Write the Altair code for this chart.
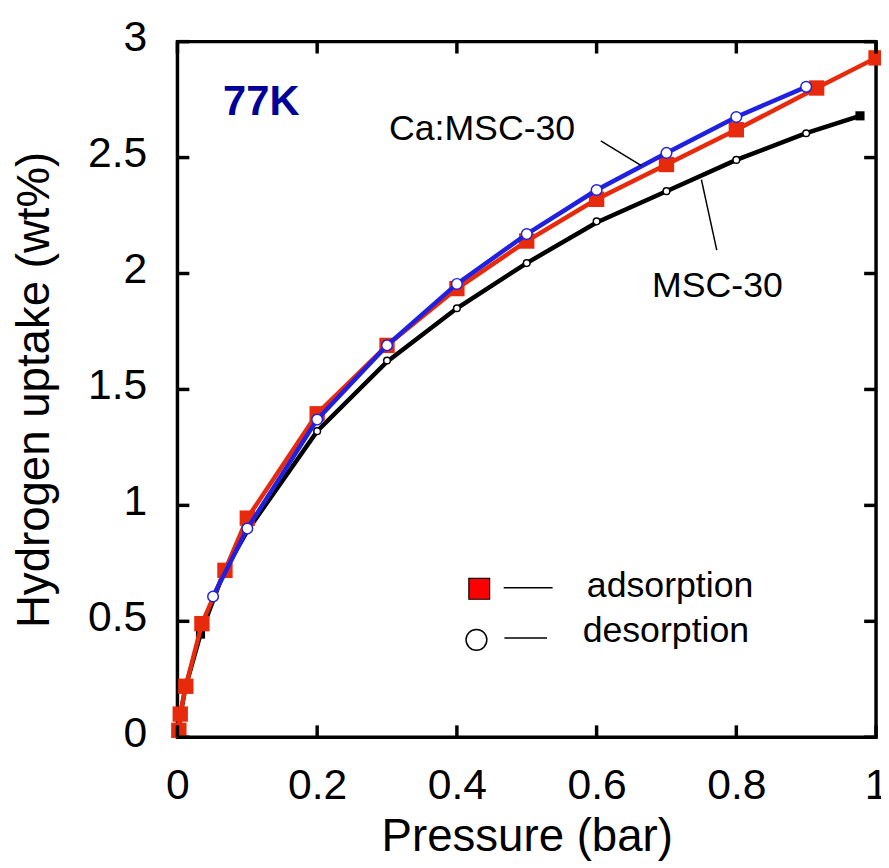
import altair as alt
import pandas as pd

# MSC-30 (black)
msc_ads_p = [0.002, 0.004, 0.011, 0.033, 0.066, 0.1, 0.2, 0.3, 0.4, 0.5, 0.6, 0.7, 0.8, 0.9, 0.977]
msc_ads_u = [0.03, 0.09, 0.21, 0.445, 0.71, 0.89, 1.32, 1.62, 1.85, 2.045, 2.22, 2.355, 2.49, 2.605, 2.68]
msc_sq_p = [0.002, 0.004, 0.011, 0.033, 0.066, 0.977]
msc_sq_u = [0.03, 0.09, 0.21, 0.445, 0.71, 2.68]
msc_des_p = [0.1, 0.2, 0.3, 0.4, 0.5, 0.6, 0.7, 0.8, 0.9]
msc_des_u = [0.895, 1.32, 1.625, 1.85, 2.045, 2.225, 2.355, 2.49, 2.605]

# Ca:MSC-30 adsorption (red)
ca_ads_p = [0.002, 0.004, 0.012, 0.035, 0.068, 0.1, 0.2, 0.3, 0.4, 0.5, 0.6, 0.7, 0.8, 0.915, 1.0]
ca_ads_u = [0.03, 0.1, 0.22, 0.49, 0.72, 0.945, 1.395, 1.69, 1.935, 2.14, 2.32, 2.47, 2.62, 2.80, 2.93]

# Ca:MSC-30 desorption (blue)
ca_des_p = [0.051, 0.1, 0.2, 0.3, 0.4, 0.5, 0.6, 0.7, 0.8, 0.9]
ca_des_u = [0.607, 0.90, 1.37, 1.69, 1.955, 2.17, 2.36, 2.52, 2.675, 2.805]

x_ticks = [0, 0.2, 0.4, 0.6, 0.8, 1.0]
y_ticks = [0, 0.5, 1.0, 1.5, 2.0, 2.5, 3.0]

FONT = "Liberation Sans"
W, H = 705, 702

xs = alt.Scale(domain=[0, 1], nice=False, zero=False)
ys = alt.Scale(domain=[0, 3], nice=False, zero=False)

X = alt.X("p:Q", scale=xs, axis=alt.Axis(
    title="Pressure (bar)", values=x_ticks,
    labelExpr="datum.value == 0 ? '0' : datum.value == 1 ? '1' : format(datum.value, '.1f')",
    tickSize=0, labelFontSize=43, labelFont=FONT, labelColor="black", labelPadding=28,
    titleFontSize=46, titleFont=FONT, titleFontWeight="normal", titleColor="black", titlePadding=7,
    grid=False, domain=False, labelFlush=False))
Y = alt.Y("u:Q", scale=ys, axis=alt.Axis(
    title="Hydrogen uptake (wt%)", values=y_ticks,
    labelExpr="datum.value == 0 ? '0' : format(datum.value, '~g')",
    tickSize=0, labelFontSize=43, labelFont=FONT, labelColor="black", labelPadding=31, labelOffset=-4,
    titleFontSize=46, titleFont=FONT, titleFontWeight="normal", titleColor="black", titlePadding=29,
    grid=False, domain=False, labelFlush=False))

def df(p, u):
    return pd.DataFrame({"p": p, "u": u})

bx = alt.X("p:Q", scale=xs)
by = alt.Y("u:Q", scale=ys)

red = "#e82a0c"
blue = "#2020e0"

msc_line = alt.Chart(df(msc_ads_p, msc_ads_u)).mark_line(color="black", strokeWidth=4.5).encode(x=X, y=Y)
msc_sq = alt.Chart(df(msc_sq_p, msc_sq_u)).mark_point(shape="square", filled=True, color="black", size=85, opacity=1).encode(x=bx, y=by)
msc_circ = alt.Chart(df(msc_des_p, msc_des_u)).mark_point(shape="circle", filled=True, fill="white", stroke="black", strokeWidth=1.5, size=45, opacity=1).encode(x=bx, y=by)

ca_line = alt.Chart(df(ca_ads_p, ca_ads_u)).mark_line(color=red, strokeWidth=4.5).encode(x=bx, y=by)
ca_sq = alt.Chart(df(ca_ads_p, ca_ads_u)).mark_point(shape="square", filled=True, color=red, size=240, opacity=1).encode(x=bx, y=by)
des_line = alt.Chart(df(ca_des_p, ca_des_u)).mark_line(color=blue, strokeWidth=4.5).encode(x=bx, y=by)
des_circ = alt.Chart(df(ca_des_p, ca_des_u)).mark_point(shape="circle", filled=True, fill="white", stroke=blue, strokeWidth=1.5, size=115, opacity=1).encode(x=bx, y=by)

# inward ticks on all four sides
tk = 12
xt = pd.DataFrame({"p": x_ticks})
yt = pd.DataFrame({"u": y_ticks})
xb = alt.Chart(xt).mark_rule(color="black", strokeWidth=3.5).encode(x=bx, y=alt.value(H), y2=alt.value(H - tk))
xtp = alt.Chart(xt).mark_rule(color="black", strokeWidth=3.5).encode(x=bx, y=alt.value(0), y2=alt.value(tk))
yl = alt.Chart(yt).mark_rule(color="black", strokeWidth=3.5).encode(y=by, x=alt.value(0), x2=alt.value(tk))
yr = alt.Chart(yt).mark_rule(color="black", strokeWidth=3.5).encode(y=by, x=alt.value(W), x2=alt.value(W - tk))

# annotations
ann_text = ["77K", "Ca:MSC-30", "MSC-30"]
ann_p = [0.120, 0.436, 0.773]
ann_u = [2.683, 2.576, 1.900]
t77 = alt.Chart(pd.DataFrame({"p": [ann_p[0]], "u": [ann_u[0]], "t": [ann_text[0]]})).mark_text(
    font=FONT, fontSize=42, fontWeight="bold", color="#000099", align="center", baseline="alphabetic").encode(x=bx, y=by, text="t:N")
tlab = alt.Chart(pd.DataFrame({"p": ann_p[1:], "u": ann_u[1:], "t": ann_text[1:]})).mark_text(
    font=FONT, fontSize=36, color="black", align="center", baseline="alphabetic").encode(x=bx, y=by, text="t:N")

lead = pd.DataFrame({"p": [0.606, 0.750], "u": [2.572, 2.405], "p2": [0.664, 0.772], "u2": [2.465, 2.101]})
leaders = alt.Chart(lead).mark_rule(color="black", strokeWidth=1.5).encode(x=bx, y=by, x2="p2:Q", y2="u2:Q")

# legend
leg_lab = ["adsorption", "desorption"]
leg_sym_p = [0.432, 0.428]
leg_sym_u = [0.640, 0.42]
leg_line_p = [0.467, 0.468]
leg_line_p2 = [0.537, 0.529]
leg_line_u = [0.645, 0.428]
leg_txt_p = [0.586, 0.580]
leg_txt_u = [0.603, 0.411]

lg_sq = alt.Chart(pd.DataFrame({"p": [leg_sym_p[0]], "u": [leg_sym_u[0]]})).mark_point(
    shape="square", filled=True, fill="#ff0000", stroke="black", strokeWidth=1.2, size=440, opacity=1).encode(x=bx, y=by)
lg_c = alt.Chart(pd.DataFrame({"p": [leg_sym_p[1]], "u": [leg_sym_u[1]]})).mark_point(
    shape="circle", filled=True, fill="white", stroke="black", strokeWidth=1.5, size=440, opacity=1).encode(x=bx, y=by)
lg_lines = alt.Chart(pd.DataFrame({"p": leg_line_p, "p2": leg_line_p2, "u": leg_line_u})).mark_rule(
    color="black", strokeWidth=1.5).encode(x=bx, x2="p2:Q", y=by)
lg_txt = alt.Chart(pd.DataFrame({"p": leg_txt_p, "u": leg_txt_u, "t": leg_lab})).mark_text(
    font=FONT, fontSize=36, color="black", align="left", baseline="alphabetic").encode(x=bx, y=by, text="t:N")

chart = alt.layer(
    msc_line, msc_sq, msc_circ, ca_line, ca_sq, des_line, des_circ,
    xb, xtp, yl, yr, t77, tlab, leaders, lg_sq, lg_c, lg_lines, lg_txt
).properties(
    width=W, height=H,
    autosize=alt.AutoSizeParams(type="none"),
    padding={"left": 171, "top": 30, "right": 5, "bottom": 128},
).configure(background="white").configure_view(stroke="black", strokeWidth=3.5)

chart.save("out.html", embed_options={"renderer": "svg", "actions": False})
